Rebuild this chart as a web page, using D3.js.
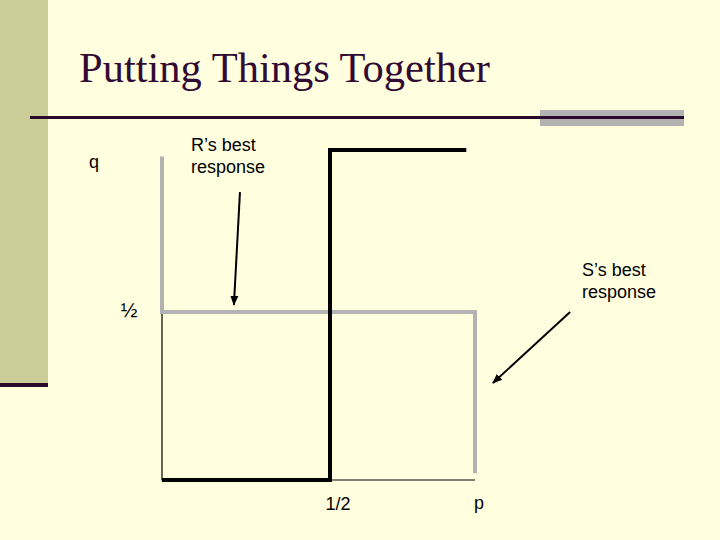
<!DOCTYPE html>
<html><head><meta charset="utf-8">
<script src="https://cdn.jsdelivr.net/npm/d3@7"></script>
<style>
html,body{margin:0;padding:0;background:#FFFFE0;}
svg{display:block;}
</style></head>
<body>
<script>
// ---- data (chart units: p on x, q on y) ----
const title = "Putting Things Together";
const xKnots = [0, 0.5, 1];           // p values
const yKnots = [0, 0.5, 1];           // q values
const xTickLabels = [{v: 0.5, t: "1/2"}, {v: 1, t: "p"}];
const yTickLabels = [{v: 0.5, t: "½"}, {v: 1, t: "q"}];
// R's best response (black, thick)
const rBest = [[0, 0], [0.5, 0], [0.5, 1], [0.97, 1]];
// S's best response (grey)
const sBest = [[0, 0.98], [0, 0.5], [1, 0.5], [1, 0.02]];
// thin axes
const axesLine = [[0, 0.5], [0, 0], [1, 0]];
// annotation arrows [from, to]
const rArrow = [[0.232, 0.87], [0.214, 0.522]];
const sArrow = [[1.328, 0.5], [1.062, 0.289]];
const rLabel = ["R’s best", "response"];
const sLabel = ["S’s best", "response"];

const W = 720, H = 540;
const svg = d3.select("body").append("svg").attr("width", W).attr("height", H);
svg.append("rect").attr("width", W).attr("height", H).attr("fill", "#FFFFE0");

// slide decoration
svg.append("rect").attr("x", 0).attr("y", 0).attr("width", 48).attr("height", 384).attr("fill", "#CCCC99");
svg.append("rect").attr("x", 0).attr("y", 383).attr("width", 48).attr("height", 4).attr("fill", "#2A0A2A");
svg.append("rect").attr("x", 540).attr("y", 110).attr("width", 144).attr("height", 16).attr("fill", "#B2B2B2");
svg.append("rect").attr("x", 30).attr("y", 116).attr("width", 654).attr("height", 3).attr("fill", "#2A0A2A");

svg.append("text").attr("x", 79).attr("y", 82)
  .attr("font-family", "'Liberation Serif','Times New Roman',serif")
  .attr("font-size", 42.5).attr("fill", "#330A33").text(title);

// scales
const x = d3.scaleLinear().domain(xKnots).range([162, 330, 475]);
const y = d3.scaleLinear().domain(yKnots).range([480, 312, 150]);
const line = d3.line().x(d => x(d[0])).y(d => y(d[1])).curve(d3.curveLinear);

svg.append("path").attr("d", line(axesLine)).attr("fill", "none").attr("stroke", "#000").attr("stroke-width", 1.2);
svg.append("path").attr("d", line(sBest)).attr("fill", "none").attr("stroke", "#B2B2B2").attr("stroke-width", 4).attr("stroke-linejoin", "miter");
svg.append("path").attr("d", line(rBest)).attr("fill", "none").attr("stroke", "#000").attr("stroke-width", 4).attr("stroke-linejoin", "miter");

// arrows
const defs = svg.append("defs");
defs.append("marker").attr("id", "ah").attr("viewBox", "0 0 10 10").attr("refX", 9).attr("refY", 5)
  .attr("markerWidth", 5).attr("markerHeight", 5).attr("orient", "auto")
  .append("path").attr("d", "M0,1 L10,5 L0,9 Z").attr("fill", "#000");
[rArrow, sArrow].forEach(a => {
  svg.append("line").attr("x1", x(a[0][0])).attr("y1", y(a[0][1]))
    .attr("x2", x(a[1][0])).attr("y2", y(a[1][1]))
    .attr("stroke", "#000").attr("stroke-width", 2).attr("marker-end", "url(#ah)");
});

const sans = "'Liberation Sans',Arial,sans-serif";
// tick labels
svg.append("text").attr("x", x(0.5) + 8).attr("y", 510).attr("text-anchor", "middle")
  .attr("font-family", sans).attr("font-size", 18).text(xTickLabels[0].t);
svg.append("text").attr("x", x(1) + 4).attr("y", 509).attr("text-anchor", "middle")
  .attr("font-family", sans).attr("font-size", 18).text(xTickLabels[1].t);
svg.append("text").attr("x", 129).attr("y", y(0.5) + 5).attr("text-anchor", "middle")
  .attr("font-family", sans).attr("font-size", 20).text(yTickLabels[0].t);
svg.append("text").attr("x", 94).attr("y", 168).attr("text-anchor", "middle")
  .attr("font-family", sans).attr("font-size", 18).text(yTickLabels[1].t);

// annotation labels
rLabel.forEach((t, i) => svg.append("text").attr("x", 191).attr("y", 151 + i * 22)
  .attr("font-family", sans).attr("font-size", 18).text(t));
sLabel.forEach((t, i) => svg.append("text").attr("x", 582).attr("y", 276 + i * 22)
  .attr("font-family", sans).attr("font-size", 18).text(t));
</script>
</body></html>
